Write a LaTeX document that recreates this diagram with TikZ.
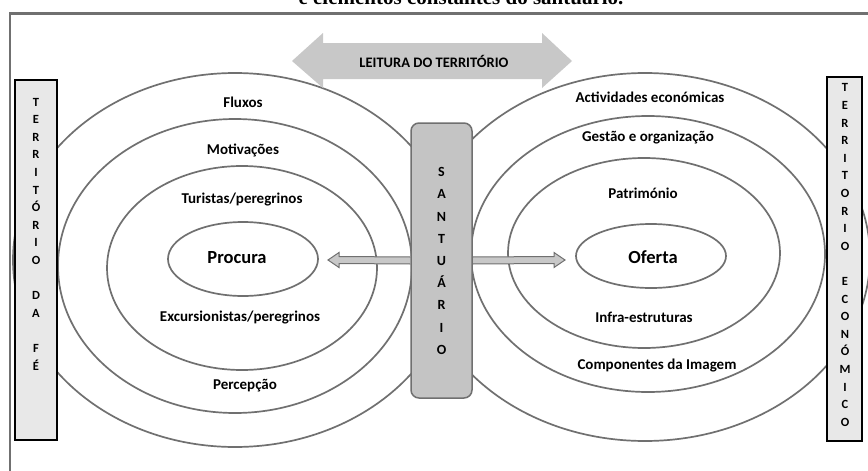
\documentclass[tikz,border=0pt]{standalone}
\usepackage{fontspec}
\newfontfamily\calfont{Carlito}
\newfontfamily\serbfont{Liberation Serif}
\usetikzlibrary{calc}
\pgfdeclarelayer{bg}
\pgfsetlayers{bg,main}
\definecolor{ringgray}{HTML}{707070}
\definecolor{boxfill}{HTML}{E8E8E8}
\definecolor{sanfill}{HTML}{C4C4C4}
\definecolor{arrfill}{HTML}{C8C8C8}
\tikzset{
  ring/.style={draw=ringgray, line width=1.7pt},
  lbl/.style={font=\calfont\bfseries\fontsize{15}{17}\selectfont, inner sep=0pt},
  biglbl/.style={font=\calfont\bfseries\fontsize{18.5}{20}\selectfont, inner sep=0pt},
  sidebox/.style={draw=black, line width=2.4pt, fill=boxfill, inner sep=0pt},
  vletters/.style={font=\calfont\bfseries\fontsize{12.5}{17.6}\selectfont, align=center, inner sep=0pt},
  sanletters/.style={font=\calfont\bfseries\fontsize{14}{22.2}\selectfont, align=center, inner sep=0pt},
  smallarrow/.style={fill=arrfill, draw=ringgray, line width=1pt, line join=miter}
}
\begin{document}
\begin{tikzpicture}[x=1pt,y=-1pt]
\useasboundingbox (0,0) rectangle (868,471);
\clip (0,0) rectangle (868,471);
\begin{pgfonlayer}{bg}
\fill[white] (0,0) rectangle (868,471);
% frame
\draw[draw=ringgray, line width=2.6pt] (10,500) -- (10,13.5) -- (900,13.5);
% left rings
\draw[ring] (235,260) ellipse [x radius=222, y radius=187];
\draw[ring] (235,266) ellipse [x radius=177, y radius=147];
\draw[ring] (242,268) ellipse [x radius=135, y radius=102];
\draw[ring] (243,259) ellipse [x radius=75, y radius=37];
% right rings
\draw[ring] (645,257) ellipse [x radius=225, y radius=184];
\draw[ring] (648,254) ellipse [x radius=177, y radius=138];
\draw[ring] (644,253) ellipse [x radius=136, y radius=95];
\draw[ring] (651,256) ellipse [x radius=75, y radius=32];
% top arrow
\fill[arrfill] (292,61) -- (323,33) -- (323,43) -- (542,43) -- (542,33) -- (572,61)
  -- (542,88) -- (542,79) -- (323,79) -- (323,88) -- cycle;
\end{pgfonlayer}
% caption (cut off at top)
\node[font=\serbfont\bfseries\fontsize{21}{24}\selectfont, anchor=base, inner sep=0pt] (caption) at (461,5) {e elementos constantes do santuário.};
\node[font=\calfont\bfseries\fontsize{14.5}{16}\selectfont, inner sep=0pt] (leitura) at (434,61) {LEITURA DO TERRITÓRIO};
% santuario box
\node[draw=ringgray, fill=sanfill, line width=1.5pt, rounded corners=8pt, minimum width=61pt, minimum height=275pt, inner sep=0pt] (san) at (441.5,260.5) {};
\coordinate (la) at (328,260);
\coordinate (ra) at (565,260);
% small arrows (behind the box)
\begin{pgfonlayer}{bg}
\filldraw[smallarrow] ($(san.west)+(0,-3.5)$) -- ($(la)+(11,-3.5)$) -- ($(la)+(11,-7.5)$) -- (la)
  -- ($(la)+(11,7.5)$) -- ($(la)+(11,3.5)$) -- ($(san.west)+(0,3.5)$);
\filldraw[smallarrow] ($(san.east)+(0,-3.5)$) -- ($(ra)+(-11,-3.5)$) -- ($(ra)+(-11,-7.5)$) -- (ra)
  -- ($(ra)+(-11,7.5)$) -- ($(ra)+(-11,3.5)$) -- ($(san.east)+(0,3.5)$);
\end{pgfonlayer}
\node[sanletters] (santxt) at (441.5,261) {S\\A\\N\\T\\U\\Á\\R\\I\\O};
% side boxes
\node[sidebox, minimum width=42pt, minimum height=360pt] (lbox) at (36,260) {};
\node[vletters] (ltxt) at (36,234) {T\\E\\R\\R\\I\\T\\Ó\\R\\I\\O\\~\\D\\A\\~\\F\\É};
\node[sidebox, minimum width=35pt, minimum height=364pt] (rbox) at (844.5,259) {};
\node[vletters] (rtxt) at (845,255) {T\\E\\R\\R\\I\\T\\O\\R\\I\\O\\~\\E\\C\\O\\N\\Ó\\M\\I\\C\\O};
% left labels
\node[lbl] (fluxos) at (243,102) {Fluxos};
\node[lbl] (motiv) at (243,150) {Motivações};
\node[lbl] (turist) at (242,200) {Turistas/peregrinos};
\node[biglbl] (procura) at (237,258) {Procura};
\node[lbl] (excurs) at (240,318) {Excursionistas/peregrinos};
\node[lbl] (percep) at (245,386) {Percepção};
% right labels
\node[lbl] (activ) at (650,97) {Actividades económicas};
\node[lbl] (gestao) at (648,138) {Gestão e organização};
\node[lbl] (patrim) at (643,193) {Património};
\node[biglbl] (oferta) at (653,257) {Oferta};
\node[lbl] (infra) at (644,317) {Infra-estruturas};
\node[lbl] (compon) at (657,366) {Componentes da Imagem};
\end{tikzpicture}
\end{document}
